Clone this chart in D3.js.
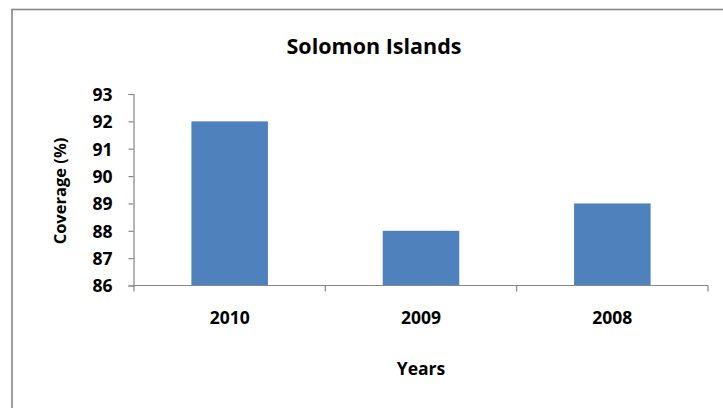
<!DOCTYPE html>
<html>
<head>
<meta charset="utf-8">
<script src="https://cdn.jsdelivr.net/npm/d3@7"></script>
<style>
  html, body { margin: 0; padding: 0; background: #fff; }
  svg { display: block; }
  text { font-family: "Open Sans", Lato, sans-serif; font-weight: bold; fill: #000; }
</style>
</head>
<body>
<svg id="chart" width="723" height="408"></svg>
<script>
// Immunization coverage by year
const years = ["2010", "2009", "2008"];
const coverage = [92, 88, 89];
const yTicks = [86, 87, 88, 89, 90, 91, 92, 93];
const chartTitle = "Solomon Islands";
const xTitle = "Years";
const yTitle = "Coverage (%)";

const svg = d3.select("#chart");
const axisColor = "#868686";
const barColor = "#4F81BD";

// outer chart frame
svg.append("rect")
  .attr("x", 12).attr("y", 9.5)
  .attr("width", 900).attr("height", 600)
  .attr("fill", "none")
  .attr("stroke", axisColor)
  .attr("stroke-width", 1.6);

const plot = { left: 134, right: 708, top: 94, bottom: 285.5 };

const x = d3.scaleBand()
  .domain(years)
  .range([plot.left, plot.right])
  .paddingInner(0.6)
  .paddingOuter(0.3);

const y = d3.scaleLinear()
  .domain([86, 93])
  .range([plot.bottom, plot.top]);

// bars
svg.append("g").selectAll("rect")
  .data(years.map((yr, i) => ({ yr, v: coverage[i] })))
  .join("rect")
  .attr("x", d => x(d.yr))
  .attr("y", d => y(d.v))
  .attr("width", x.bandwidth())
  .attr("height", d => y(86) - y(d.v))
  .attr("fill", barColor);

// y axis
const yAxis = svg.append("g")
  .attr("transform", `translate(${plot.left - 0.5},0)`)
  .call(d3.axisLeft(y).tickValues(yTicks).tickFormat(d3.format("d")).tickSize(5).tickPadding(16));
yAxis.select(".domain").attr("stroke", axisColor).attr("stroke-width", 1.2);
yAxis.selectAll(".tick line").attr("stroke", axisColor).attr("stroke-width", 1.2);
yAxis.selectAll(".tick text").style("font-size", "17.5px").attr("dy", "0.36em");

// x axis (labels centred under each category)
const xAxis = svg.append("g")
  .attr("transform", `translate(0,${plot.bottom})`)
  .call(d3.axisBottom(x).tickSize(0).tickPadding(26));
xAxis.select(".domain").remove();
xAxis.selectAll(".tick text").style("font-size", "17.5px");

svg.append("line")
  .attr("x1", plot.left - 0.5).attr("x2", plot.right)
  .attr("y1", plot.bottom).attr("y2", plot.bottom)
  .attr("stroke", axisColor).attr("stroke-width", 1.2);

// category boundary ticks
const step = x.step();
const bounds = d3.range(years.length + 1).map(i => x(years[0]) - step * x.paddingOuter() + i * step);
svg.append("g").selectAll("line")
  .data(bounds)
  .join("line")
  .attr("x1", d => d).attr("x2", d => d)
  .attr("y1", plot.bottom).attr("y2", plot.bottom + 6)
  .attr("stroke", axisColor).attr("stroke-width", 1.2);

// titles
svg.append("text")
  .attr("x", 374).attr("y", 54)
  .attr("text-anchor", "middle")
  .style("font-size", "21.5px")
  .text(chartTitle);

svg.append("text")
  .attr("x", (plot.left + plot.right) / 2).attr("y", 375)
  .attr("text-anchor", "middle")
  .style("font-size", "17.5px")
  .text(xTitle);

svg.append("text")
  .attr("transform", `translate(66,191) rotate(-90)`)
  .attr("text-anchor", "middle")
  .style("font-size", "16.5px")
  .text(yTitle);
</script>
</body>
</html>
